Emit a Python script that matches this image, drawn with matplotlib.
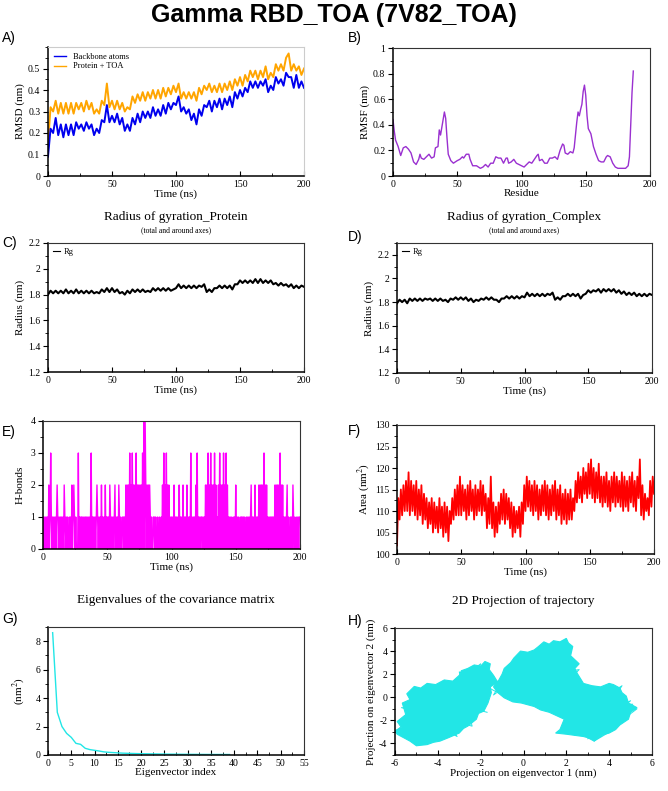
import numpy as np
import matplotlib
matplotlib.use("Agg")
import matplotlib.pyplot as plt
from matplotlib.ticker import MultipleLocator, FormatStrFormatter

plt.rcParams['font.family'] = 'Liberation Serif'
plt.rcParams['mathtext.fontset'] = 'stix'
plt.rcParams['axes.unicode_minus'] = False

W, H = 668, 791

# ---- A) RMSD, 2 ns steps
t_rmsd = list(range(0, 201, 2))
rmsd_backbone = [0.09, 0.22, 0.20, 0.27, 0.19, 0.24, 0.18, 0.24, 0.19, 0.24,
                 0.19, 0.25, 0.22, 0.24, 0.21, 0.25, 0.22, 0.24, 0.19, 0.22,
                 0.20, 0.26, 0.25, 0.33, 0.25, 0.28, 0.25, 0.29, 0.24, 0.27,
                 0.21, 0.24, 0.21, 0.27, 0.24, 0.29, 0.25, 0.30, 0.27, 0.30,
                 0.27, 0.32, 0.28, 0.31, 0.28, 0.33, 0.29, 0.34, 0.31, 0.34,
                 0.33, 0.37, 0.30, 0.32, 0.29, 0.31, 0.26, 0.29, 0.24, 0.31,
                 0.28, 0.33, 0.32, 0.35, 0.30, 0.35, 0.32, 0.36, 0.31, 0.36,
                 0.33, 0.37, 0.32, 0.39, 0.36, 0.40, 0.37, 0.41, 0.39, 0.44,
                 0.41, 0.44, 0.41, 0.44, 0.42, 0.45, 0.39, 0.42, 0.40, 0.46,
                 0.43, 0.45, 0.42, 0.48, 0.46, 0.46, 0.41, 0.47, 0.41, 0.44,
                 0.41]
rmsd_complex = [0.15, 0.32, 0.30, 0.35, 0.29, 0.34, 0.29, 0.34, 0.29, 0.34,
                0.29, 0.34, 0.31, 0.34, 0.30, 0.35, 0.31, 0.34, 0.29, 0.31,
                0.29, 0.35, 0.33, 0.43, 0.32, 0.35, 0.31, 0.35, 0.31, 0.34,
                0.30, 0.32, 0.31, 0.37, 0.34, 0.38, 0.35, 0.39, 0.35, 0.39,
                0.36, 0.40, 0.36, 0.40, 0.36, 0.41, 0.37, 0.41, 0.38, 0.42,
                0.39, 0.43, 0.36, 0.39, 0.36, 0.39, 0.36, 0.39, 0.35, 0.41,
                0.38, 0.42, 0.40, 0.43, 0.39, 0.42, 0.39, 0.43, 0.39, 0.43,
                0.40, 0.44, 0.40, 0.45, 0.42, 0.46, 0.42, 0.47, 0.44, 0.49,
                0.46, 0.49, 0.45, 0.49, 0.46, 0.51, 0.45, 0.48, 0.46, 0.52,
                0.49, 0.52, 0.49, 0.55, 0.57, 0.49, 0.52, 0.49, 0.51, 0.47,
                0.50]

# ---- B) RMSF
residue = [0, 1, 2, 4, 6, 8, 10, 12, 14, 16, 18, 20, 21, 22, 24, 26, 28, 30, 32, 33,
           35, 36, 37, 38, 40, 41, 42, 43, 45, 47, 50, 52, 54, 55, 57, 59, 60, 62, 65, 68,
           70, 72, 74, 76, 78, 80, 82, 84, 85, 86, 88, 89, 90, 92, 94, 96, 98, 100, 102, 104,
           106, 108, 110, 112, 113, 114, 116, 118, 120, 122, 124, 126, 128, 130, 132, 133, 134, 136, 138, 140,
           141, 143, 144, 145, 146, 147, 148, 149, 150, 151, 152, 154, 156, 158, 160, 162, 164, 166, 167, 169,
           171, 173, 175, 178, 181, 183, 184, 185, 186, 187]
rmsf = [0.44, 0.35, 0.28, 0.23, 0.16, 0.22, 0.23, 0.21, 0.18, 0.11, 0.09, 0.13, 0.17, 0.14, 0.13, 0.15, 0.17, 0.14, 0.15, 0.22,
        0.23, 0.36, 0.32, 0.38, 0.50, 0.45, 0.30, 0.17, 0.12, 0.10, 0.12, 0.13, 0.15, 0.14, 0.17, 0.17, 0.13, 0.08, 0.08, 0.06,
        0.07, 0.09, 0.07, 0.10, 0.10, 0.15, 0.14, 0.14, 0.12, 0.10, 0.14, 0.14, 0.10, 0.11, 0.13, 0.10, 0.09, 0.08, 0.07, 0.09,
        0.11, 0.10, 0.13, 0.16, 0.17, 0.12, 0.13, 0.10, 0.10, 0.14, 0.14, 0.15, 0.13, 0.20, 0.25, 0.24, 0.18, 0.17, 0.19, 0.18,
        0.22, 0.42, 0.50, 0.47, 0.52, 0.56, 0.66, 0.71, 0.63, 0.47, 0.37, 0.33, 0.23, 0.17, 0.12, 0.11, 0.11, 0.15, 0.16, 0.15,
        0.10, 0.07, 0.06, 0.06, 0.06, 0.08, 0.15, 0.40, 0.65, 0.82]

# ---- C) / D) radius of gyration, 2 ns steps
t_rg = list(range(0, 201, 2))
rg_protein = [1.80, 1.83, 1.81, 1.83, 1.81, 1.83, 1.81, 1.84, 1.81, 1.83,
              1.81, 1.84, 1.81, 1.83, 1.81, 1.83, 1.81, 1.83, 1.81, 1.82,
              1.81, 1.84, 1.82, 1.85, 1.82, 1.85, 1.82, 1.84, 1.81, 1.82,
              1.80, 1.83, 1.81, 1.84, 1.82, 1.84, 1.82, 1.84, 1.82, 1.83,
              1.82, 1.85, 1.83, 1.85, 1.83, 1.85, 1.83, 1.85, 1.83, 1.84,
              1.85, 1.88, 1.85, 1.87, 1.85, 1.87, 1.85, 1.87, 1.85, 1.87,
              1.86, 1.88, 1.82, 1.84, 1.82, 1.85, 1.85, 1.87, 1.85, 1.87,
              1.85, 1.87, 1.84, 1.88, 1.88, 1.91, 1.89, 1.91, 1.89, 1.91,
              1.89, 1.92, 1.89, 1.92, 1.89, 1.91, 1.89, 1.91, 1.88, 1.89,
              1.87, 1.89, 1.87, 1.88, 1.86, 1.88, 1.85, 1.87, 1.85, 1.87,
              1.86]
rg_complex = [1.79, 1.82, 1.80, 1.82, 1.79, 1.83, 1.81, 1.83, 1.81, 1.83,
              1.81, 1.83, 1.82, 1.83, 1.81, 1.83, 1.81, 1.83, 1.81, 1.82,
              1.80, 1.83, 1.82, 1.84, 1.82, 1.84, 1.82, 1.84, 1.81, 1.83,
              1.80, 1.82, 1.81, 1.83, 1.82, 1.84, 1.82, 1.84, 1.82, 1.82,
              1.80, 1.83, 1.83, 1.85, 1.83, 1.85, 1.83, 1.85, 1.83, 1.85,
              1.84, 1.88, 1.85, 1.87, 1.85, 1.87, 1.85, 1.87, 1.85, 1.87,
              1.86, 1.88, 1.82, 1.84, 1.82, 1.85, 1.85, 1.87, 1.85, 1.87,
              1.85, 1.87, 1.83, 1.86, 1.87, 1.90, 1.88, 1.90, 1.89, 1.91,
              1.88, 1.91, 1.89, 1.91, 1.89, 1.91, 1.88, 1.90, 1.87, 1.89,
              1.86, 1.88, 1.86, 1.88, 1.85, 1.87, 1.85, 1.87, 1.85, 1.87,
              1.86]

# ---- E) H-bonds, 0.5 ns steps (one digit per frame, 20 frames per 10 ns)
t_hb = [i * 0.5 for i in range(401)]
hbonds = [int(c) for c in
          "01010101020131010101" "01210101010102101010" "01010201210100030101"
          "10101010101010130101" "01012101010201010201" "10102101010120101021"
          "01001101020202030203" "02020302020202030404" "20202021010011010010"
          "01001020302030202010" "10102010101020101020" "10102010103010101020"
          "30101011010102020302" "03020203020102030202" "03020302010101001010"
          "20101001011010100101" "01012010102010102020" "20203020201010101101"
          "02020202030202010101" "20100101021010010101" "1"]

# ---- F) SASA, 1 ns steps
t_sasa = list(range(0, 201))
sasa = [102, 113, 108, 115, 109, 116, 110, 117, 110, 119,
        109, 117, 110, 116, 109, 117, 108, 115, 109, 116,
        107, 114, 108, 113, 106, 112, 107, 113, 105, 112,
        106, 111, 105, 113, 106, 111, 104, 112, 105, 111,
        103, 110, 107, 113, 108, 115, 109, 116, 109, 118,
        109, 116, 110, 115, 108, 116, 109, 117, 110, 115,
        108, 116, 109, 115, 110, 117, 109, 116, 110, 114,
        106, 113, 107, 118, 106, 112, 104, 111, 105, 112,
        107, 114, 108, 115, 107, 114, 108, 113, 106, 112,
        104, 111, 105, 110, 106, 111, 104, 112, 107, 116,
        110, 118, 111, 117, 110, 116, 109, 117, 110, 116,
        108, 115, 109, 116, 110, 117, 109, 116, 108, 115,
        109, 116, 110, 117, 108, 115, 109, 116, 107, 114,
        108, 115, 107, 114, 108, 115, 108, 113, 110, 117,
        112, 119, 113, 118, 112, 120, 114, 119, 113, 121,
        114, 122, 113, 120, 112, 119, 113, 121, 112, 118,
        111, 118, 112, 119, 111, 117, 110, 118, 112, 119,
        111, 118, 112, 117, 111, 119, 110, 118, 111, 117,
        110, 118, 112, 119, 111, 117, 110, 118, 113, 122,
        109, 116, 108, 114, 110, 113, 109, 117, 111, 118,
        114]

# ---- G) eigenvalues
eig_index = list(range(1, 40))
eigenvalues = [8.6, 3.0, 2.0, 1.52, 1.24, 0.82, 0.75, 0.47, 0.38, 0.33,
               0.28, 0.22, 0.19, 0.17, 0.15, 0.13, 0.12, 0.11, 0.10, 0.09,
               0.085, 0.08, 0.075, 0.07, 0.065, 0.06, 0.057, 0.054, 0.05, 0.048,
               0.046, 0.044, 0.042, 0.04, 0.039, 0.038, 0.037, 0.036, 0.035]

# ---- H) 2D projection: blob outlines + trajectory trace
left_blob_x = [-6.0, -5.7, -5.9, -5.5, -5.66, -5.3, -5.45, -5.1, -4.8, -4.5, -4.1, -3.7,
               -3.3, -3.0, -2.9, -2.6, -2.3, -2.0, -1.8, -1.55, -1.6, -1.4, -1.2,
               -1.55, -1.5, -1.66, -1.85, -2.1, -2.2, -2.6, -2.8, -3.0, -3.5, -3.9,
               -4.2, -4.5, -5.0, -5.3, -5.6, -5.9]
left_blob_y = [-2.9, -2.6, -2.1, -1.5, -0.5, -0.2, 0.3, 0.94, 0.8, 1.2, 1.1, 1.5,
               1.4, 1.9, 2.3, 2.5, 2.8, 2.7, 3.1, 2.9, 2.4, 1.9, 1.3,
               0.9, 0.4, -0.5, -1.2, -1.4, -1.9, -2.5, -2.7, -3.1, -3.5, -3.8,
               -3.9, -4.1, -4.2, -3.8, -3.5, -3.2]
right_blob_x = [-1.2, -1.4, -1.15, -1.0, -0.9, -0.6, -0.45, -0.14, 0.2, 0.5, 0.7, 0.95,
                1.2, 1.4, 1.7, 2.0, 2.1, 2.3, 2.2, 2.6, 2.4, 2.5, 2.8, 3.2, 3.6,
                4.0, 4.2, 4.5, 4.6, 4.8, 4.9, 5.3, 5.0, 4.9, 4.5, 4.3, 4.0, 3.6,
                3.3, 3.0, 2.8, 2.0, 1.5, 1.7, 1.9, 1.2, 0.8, 0.5, -0.1, -0.5, -0.9]
right_blob_y = [0.4, 0.9, 1.5, 2.0, 2.5, 3.0, 3.4, 4.0, 3.9, 4.1, 4.4, 4.8,
                4.6, 4.9, 4.8, 5.1, 4.7, 4.4, 3.6, 2.9, 2.5, 2.1, 1.2, 1.0, 0.9,
                1.2, 1.1, 0.8, 0.4, 0.1, -0.5, -0.9, -1.3, -1.9, -2.4, -2.8, -3.1, -3.3,
                -3.8, -3.5, -3.4, -3.2, -3.1, -2.8, -1.9, -1.3, -1.1, -0.8, -0.5, -0.4, -0.05]
traj_x = [-5.9, -4.8, -5.5, -3.9, -4.6, -2.7, -5.2, -2.0, -3.3, -1.6, -4.2, -1.9, -5.7,
          -2.4, -3.0, -1.3, -0.8, -1.4, -0.3, 0.4, 1.0, -0.8, 2.0, 0.6, 2.3, -1.1, 1.5,
          2.2, 0.2, 1.3, 3.8, 2.0, 5.0, 3.0, 4.6, 2.5, 5.3, 3.3, 4.2, 2.9, 4.7, 1.8,
          3.6, 2.4, 5.1, 3.0, 0.8, 1.7, -1.2, 0.9, 2.6, 0.0, -1.4, -4.4, -3.1, -5.3,
          -1.9, -4.9, -2.6, -5.8, -3.6, -1.7]
traj_y = [-2.9, -0.6, -3.3, 0.8, -4.1, 1.6, -1.8, 2.9, -3.1, 1.0, -2.2, -1.0, -0.9,
          -2.5, 2.2, 0.5, 1.0, 0.2, 3.5, -0.6, 4.6, 2.2, 5.0, 0.0, 3.3, 1.2, 4.1,
          -0.2, 2.8, -1.1, 0.8, -3.0, -0.3, -3.6, 1.0, -1.5, -1.0, -3.8, -2.8, 1.0, -2.0, -2.5,
          0.3, -3.3, -0.6, -0.8, 0.6, 3.9, 0.9, -0.9, 2.4, 1.6, 1.2, 0.6, -3.4, -1.0,
          1.7, -3.7, 0.2, -2.4, -0.4, -1.3]

CYAN = '#22e6e6'


def add_ax(x0, y0, x1, y1):
    return fig.add_axes([x0 / W, 1 - y1 / H, (x1 - x0) / W, (y1 - y0) / H])


def style(ax, xlim, ylim, xmaj, xmin, ymaj, ymin, edge='0.2'):
    ax.set_xlim(*xlim)
    ax.set_ylim(*ylim)
    ax.xaxis.set_major_locator(MultipleLocator(xmaj))
    ax.xaxis.set_minor_locator(MultipleLocator(xmin))
    ax.yaxis.set_major_locator(MultipleLocator(ymaj))
    ax.yaxis.set_minor_locator(MultipleLocator(ymin))
    ax.xaxis.set_major_formatter(FormatStrFormatter('%g'))
    ax.yaxis.set_major_formatter(FormatStrFormatter('%g'))
    ax.tick_params(axis='x', which='both', direction='in', labelsize=7, pad=3)
    ax.tick_params(axis='y', which='both', direction='out', labelsize=7, pad=2)
    ax.tick_params(which='major', length=3.5, width=0.8)
    ax.tick_params(which='minor', length=2, width=0.6)
    for s in ['left', 'bottom']:
        ax.spines[s].set_linewidth(1.1)
    for s in ['top', 'right']:
        ax.spines[s].set_linewidth(0.8)
        ax.spines[s].set_color(edge)


def letter(x, y, s):
    fig.text(x / W, 1 - y / H, s, family='Liberation Sans', fontsize=10,
             ha='left', va='center')


fig = plt.figure(figsize=(W / 100, H / 100), dpi=100)
fig.text(0.5, 1 - 15 / H, 'Gamma RBD_TOA (7V82_TOA)', family='Liberation Sans',
         fontsize=18, fontweight='bold', ha='center', va='center')

# A
ax = add_ax(48, 47, 304, 176)
ax.plot(t_rmsd, rmsd_complex, color='#ffa500', lw=1.4, label='Protein + TOA')
ax.plot(t_rmsd, rmsd_backbone, color='#0000ee', lw=1.4, label='Backbone atoms')
style(ax, (0, 200), (0, 0.6), 50, 25, 0.1, 0.05, edge='0.8')
ax.set_yticks([0, 0.1, 0.2, 0.3, 0.4, 0.5])
ax.set_xlabel('Time (ns)', fontsize=8, labelpad=0)
ax.set_ylabel('RMSD (nm)', fontsize=8, labelpad=2)
h, l = ax.get_legend_handles_labels()
leg = ax.legend(h[::-1], l[::-1], loc='upper left', frameon=False, fontsize=6,
                handlelength=1.5, borderaxespad=0.3, labelspacing=0.2)
for ln in leg.get_lines():
    ln.set_linewidth(1.0)
letter(2, 38, 'A)')

# B
ax = add_ax(393, 48, 650, 176)
ax.plot(residue, rmsf, color='#9a30d0', lw=1.0)
style(ax, (0, 200), (0, 1), 50, 25, 0.2, 0.1)
ax.set_xlabel('Residue', fontsize=8, labelpad=0)
ax.set_ylabel('RMSF (nm)', fontsize=8, labelpad=2)
letter(348, 38, 'B)')

# C
ax = add_ax(48, 243, 304, 372)
ax.plot(t_rg, rg_protein, color='black', lw=1.5, label='Rg')
style(ax, (0, 200), (1.2, 2.2), 50, 25, 0.2, 0.1)
ax.set_xlabel('Time (ns)', fontsize=8, labelpad=0)
ax.set_ylabel('Radius (nm)', fontsize=8, labelpad=2)
leg = ax.legend(loc='upper left', frameon=False, fontsize=6, handlelength=0.8,
                borderaxespad=0.2, handletextpad=0.5)
leg.get_lines()[0].set_linewidth(0.8)
fig.text(176 / W, 1 - 217 / H, 'Radius of gyration_Protein', fontsize=9.5,
         ha='center', va='center')
fig.text(176 / W, 1 - 230 / H, '(total and around axes)', fontsize=5.5,
         ha='center', va='center')
letter(2, 243, 'C)')

# D
ax = add_ax(397, 243, 652, 373)
ax.plot(t_rg, rg_complex, color='black', lw=1.5, label='Rg')
style(ax, (0, 200), (1.2, 2.3), 50, 25, 0.2, 0.1)
ax.set_xlabel('Time (ns)', fontsize=8, labelpad=0)
ax.set_ylabel('Radius (nm)', fontsize=8, labelpad=2)
leg = ax.legend(loc='upper left', frameon=False, fontsize=6, handlelength=0.8,
                borderaxespad=0.2, handletextpad=0.5)
leg.get_lines()[0].set_linewidth(0.8)
fig.text(524 / W, 1 - 217 / H, 'Radius of gyration_Complex', fontsize=9.5,
         ha='center', va='center')
fig.text(524 / W, 1 - 230 / H, '(total and around axes)', fontsize=5.5,
         ha='center', va='center')
letter(348, 237, 'D)')

# E
ax = add_ax(43, 421, 300, 549)
ax.plot(t_hb, hbonds, color='#ff00ff', lw=1.0)
style(ax, (0, 200), (0, 4), 50, 25, 1, 0.5)
ax.set_xlabel('Time (ns)', fontsize=8, labelpad=0)
ax.set_ylabel('H-bonds', fontsize=8, labelpad=4)
letter(2, 432, 'E)')

# F
ax = add_ax(397, 425, 654, 554)
ax.plot(t_sasa, sasa, color='#ff0000', lw=1.3)
style(ax, (0, 200), (100, 130), 50, 25, 5, 2.5)
ax.set_xlabel('Time (ns)', fontsize=8, labelpad=0)
ax.set_ylabel('Area (nm$^{2}$)', fontsize=8, labelpad=2)
letter(348, 431, 'F)')

# G
ax = add_ax(48, 627, 304, 755)
ax.plot(eig_index, eigenvalues, color=CYAN, lw=1.0)
style(ax, (0, 55), (0, 9), 5, 2.5, 2, 1)
ax.set_xlabel('Eigenvector index', fontsize=8, labelpad=0)
ax.set_ylabel('(nm$^{2}$)', fontsize=8, labelpad=6)
fig.text(176 / W, 1 - 600 / H, 'Eigenvalues of the covariance matrix', fontsize=9.5,
         ha='center', va='center')
letter(2, 619, 'G)')

# H
ax = add_ax(395, 628, 652, 755)
ax.fill(left_blob_x, left_blob_y, color=CYAN, lw=0.8)
ax.fill(right_blob_x, right_blob_y, color=CYAN, lw=0.8)
ax.plot(traj_x, traj_y, color=CYAN, lw=0.7)
style(ax, (-6, 6), (-5, 6), 2, 1, 2, 1)
ax.set_yticks([-4, -2, 0, 2, 4, 6])
ax.set_xlabel('Projection on eigenvector 1 (nm)', fontsize=8, labelpad=0)
ax.set_ylabel('Projection on eigenvector 2 (nm)', fontsize=8, labelpad=2)
fig.text(523 / W, 1 - 601 / H, '2D Projection of trajectory', fontsize=9.5,
         ha='center', va='center')
letter(348, 621, 'H)')

fig.savefig('out.png', dpi=100)
